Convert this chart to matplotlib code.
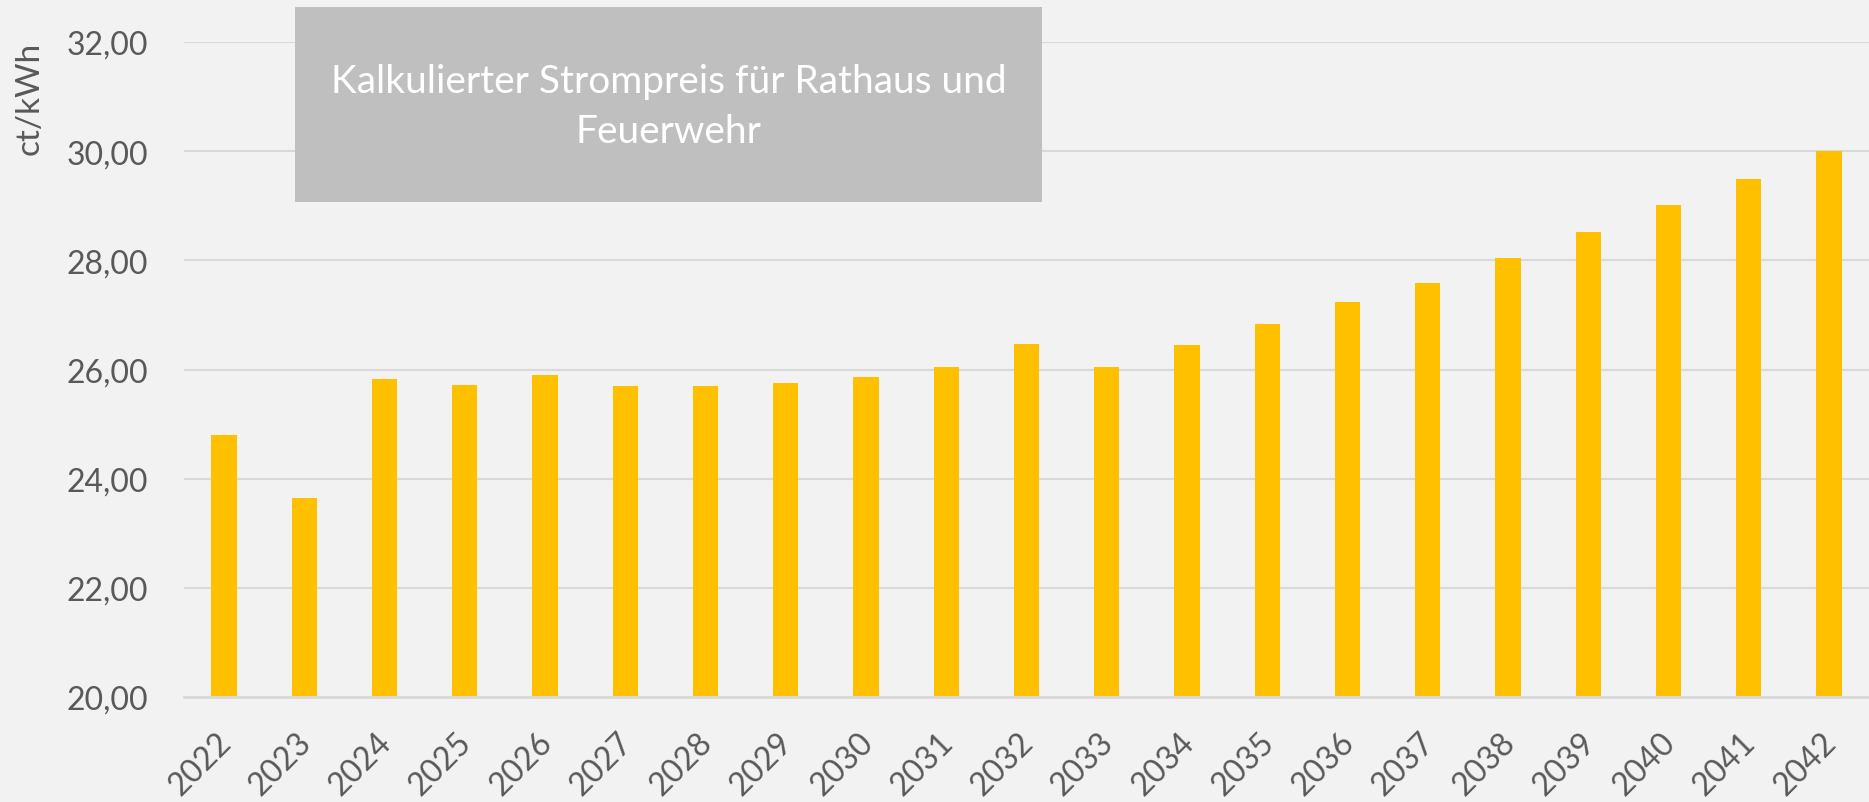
import matplotlib

matplotlib.use("Agg")

import matplotlib.pyplot as plt  # noqa: E402
import matplotlib.transforms as mtransforms  # noqa: E402
from matplotlib.patches import Rectangle  # noqa: E402
from matplotlib.ticker import FuncFormatter, MultipleLocator  # noqa: E402

# data (ct/kWh per year)
years = [str(y) for y in range(2022, 2043)]
prices = [
    24.80, 23.65, 25.82, 25.71, 25.90, 25.69, 25.69, 25.75, 25.87, 26.04, 26.46,
    26.05, 26.44, 26.84, 27.24, 27.59, 28.05, 28.52, 29.01, 29.49, 30.00,
]
y_min, y_max, y_step = 20, 32, 2
title = "Kalkulierter Strompreis für Rathaus und\nFeuerwehr"
y_label = "ct/kWh"

BG = "#f2f2f2"
BAR = "#ffc000"
GRID = "#d9d9d9"
TXT = "#595959"

W, H = 1869, 803
plt.rcParams["font.family"] = ["Lato", "DejaVu Sans"]

fig = plt.figure(figsize=(W / 100, H / 100), dpi=100, facecolor=BG)
ax = fig.add_axes([184 / W, 1 - 698 / H, 1 - 184 / W, (698 - 43) / H])
ax.set_facecolor(BG)

x = range(len(years))
ax.bar(x, prices, width=0.315, color=BAR, zorder=3)

ax.set_xlim(-0.5, len(years) - 0.5)
ax.set_ylim(y_min, y_max)
ax.yaxis.set_major_locator(MultipleLocator(y_step))
ax.yaxis.set_major_formatter(FuncFormatter(lambda v, _: f"{v:.2f}".replace(".", ",")))
ax.grid(axis="y", color=GRID, lw=1.5, zorder=0)
for side in ["top", "right", "left"]:
    ax.spines[side].set_visible(False)
ax.spines["bottom"].set_color(GRID)
ax.spines["bottom"].set_linewidth(2)
ax.spines["bottom"].set_zorder(4)

ax.set_xticks(list(x))
ax.set_xticklabels(years, rotation=45, ha="center", va="center", rotation_mode="anchor")
ax.tick_params(axis="both", length=0, labelsize=23, colors=TXT)
ax.tick_params(axis="y", pad=26)
ax.tick_params(axis="x", pad=48)
shift = mtransforms.ScaledTranslation(-24 / 100, 0, fig.dpi_scale_trans)
for lbl in ax.get_xticklabels():
    lbl.set_transform(lbl.get_transform() + shift)

fig.text(30 / W, 1 - 98 / H, y_label, rotation=90, ha="center", va="center",
         fontsize=24, color=TXT)

# grey title box in the upper left
box_l, box_r, box_t, box_b = 295, 1042, 8, 203
fig.patches.append(Rectangle((box_l / W, 1 - box_b / H), (box_r - box_l) / W,
                             (box_b - box_t) / H, transform=fig.transFigure,
                             facecolor="#bfbfbf", edgecolor="none", zorder=5))
fig.text((box_l + box_r) / 2 / W, 1 - 107 / H, title, ha="center", va="center",
         fontsize=28, color="white", linespacing=1.45, zorder=6)

fig.savefig("out.png", dpi=100, facecolor=BG)
